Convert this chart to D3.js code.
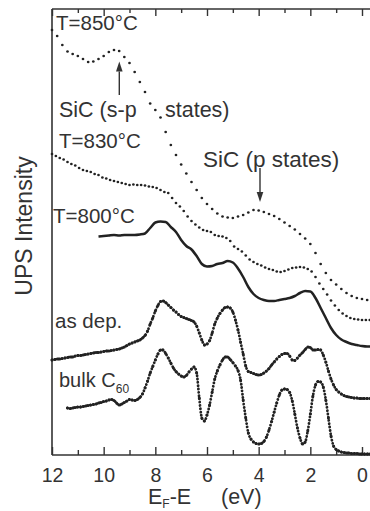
<!DOCTYPE html>
<html><head><meta charset="utf-8">
<script src="https://cdn.jsdelivr.net/npm/d3@7"></script>
<style>body{margin:0;background:#fff}svg{display:block}</style>
</head><body>
<svg id="chart" width="370" height="511"></svg>
<script>
// ---- data (binding energy E_F - E in eV, intensity in arb. units) ----
const xTicksMajor = [12, 10, 8, 6, 4, 2, 0];
const xTicksMinor = [11, 9, 7, 5, 3, 1];

const e850Start = 12, e850Step = 0.2;
const i850 = [
  425, 419, 410, 403.5, 401, 399, 396, 393, 393.5, 396,
  399, 403, 405, 404, 398, 392, 383, 373, 363, 351.5,
  345, 337.5, 323, 310, 300, 290.5, 281.5, 273, 265, 257,
  251, 246, 241.5, 238.5, 237.5, 237, 238.5, 240, 242.5, 245,
  244.5, 243, 241, 239, 236, 232.5, 229, 225.5, 221, 216.5,
  211, 202, 191, 182, 175, 170.5, 166, 162, 159, 157,
  156, 155, 155
];

const e830Start = 12, e830Step = 0.15;
const i830 = [
  301, 299, 297, 295.5, 293, 291, 289.5, 287, 285, 284,
  283, 281, 280, 277.5, 276.5, 275, 274, 273, 272, 271,
  270, 270.5, 270, 270, 269.5, 268.5, 268, 267, 265, 263,
  262, 257, 252, 248.5, 244, 238.5, 234, 230.5, 227.5, 225,
  224, 223, 220, 219, 218.5, 217, 214, 208.5, 206, 203.5,
  199.5, 195.5, 193, 191, 189.5, 187.5, 186, 185, 183.5, 183,
  184, 185.5, 187, 187.5, 188, 187.5, 186, 183.5, 178, 171.5,
  166, 160.5, 154.5, 149.5, 145, 141.5, 139, 137, 136, 135.5,
  135, 135, 135
];

const e800Start = 10.2, e800Step = 0.2;
const i800 = [
  218.5, 219, 219.5, 220, 219.5, 220, 220, 220, 220.5, 221.5,
  227, 232.5, 233.5, 233, 228, 223, 215, 209, 205.5, 199,
  191, 188.5, 189, 191, 192, 194, 192.5, 186.5, 178, 168,
  161, 157, 155, 154, 154, 155, 156, 157, 159, 162,
  164, 163.5, 157, 147, 137, 127, 120, 115.5, 113, 111,
  110, 109, 108.5, 108.5
];

const eDepStart = 12, eDepStep = 0.1;
const iDep = [
  95, 95.5, 96, 96, 96.5, 97, 97.5, 98, 98, 99,
  99.5, 99.5, 100, 100.5, 101, 101.5, 102, 102.5, 102.5, 103,
  103.5, 104, 104, 104.5, 105, 105.5, 106, 107, 108, 109.5,
  111, 112, 113, 114, 115, 117, 119.5, 124, 131, 137,
  144, 149.5, 153.5, 154, 152.5, 150, 147.5, 145, 143, 140.5,
  138.5, 137.5, 136.5, 135.5, 134.5, 133, 129, 122, 115, 110,
  111, 114.5, 122, 131, 137, 141.5, 145, 147.5, 148, 147,
  143, 135, 125, 113, 101, 89, 83.5, 82.5, 81.5, 80.5,
  80, 80.5, 82, 84, 86.5, 90, 93, 96, 98.5, 100.5,
  101.5, 101.5, 99, 95, 94.5, 97, 100, 102.5, 105.5, 108,
  107.5, 105, 105, 105.5, 105, 100, 93, 84, 76, 70,
  65.5, 63, 61, 59.5, 58.5, 58, 57.5, 57, 57, 56.5,
  56.5, 56.5, 56.5, 56.5
];

const eBulkStart = 11.4, eBulkStep = 0.1;
const iBulk = [
  47, 46.5, 47, 47.5, 48, 48, 48.5, 49, 49.5, 50,
  50.5, 51, 52, 52.5, 53.5, 54, 55, 55.5, 54.5, 52,
  50, 51, 52.5, 54, 55.5, 55, 54.5, 55.5, 57.5, 61,
  67, 74, 82, 88.5, 95, 101, 105, 105, 101.5, 97,
  92, 87, 83.5, 81, 79, 78, 79.5, 83, 86, 88,
  82, 57, 37, 34, 40, 50, 63, 76, 84, 90,
  95, 98, 98, 95.5, 92.5, 89, 84.5, 75, 55, 37,
  22, 16, 13, 11.5, 11, 11.5, 13.5, 18, 25, 33.5,
  43, 52, 60, 65, 66, 65.5, 62.5, 54, 41, 27,
  17, 11, 13, 24, 41, 59, 70, 73.5, 73, 68,
  55, 37, 19, 9, 5.5, 4, 3, 2.5, 2, 2,
  1.5, 1.5, 1.5, 1, 1, 1, 1, 1
];

// ---- helpers ----
function series(start, step, vals) {
  return vals.map((v, i) => ({ e: +(start - i * step).toFixed(3), v }));
}

const svg = d3.select("#chart");
const FONT = "'Liberation Sans', Arial, Helvetica, sans-serif";
const INK = "#222";
const AXC = "#333";

const x = d3.scaleLinear().domain([12, 0]).range([52, 362]);
const y = d3.scaleLinear().domain([0, 446]).range([455, 9]);

function styleAxis(g) {
  g.select(".domain").remove();
  g.selectAll(".tick line").attr("stroke", AXC).attr("stroke-width", 1.4);
  g.selectAll(".tick text").attr("font-family", FONT).attr("font-size", 19.5).attr("fill", "#333");
}
svg.append("g").attr("transform", `translate(0,${y(0)})`)
  .call(d3.axisBottom(x).tickValues(xTicksMajor).tickSize(-8).tickSizeOuter(0).tickPadding(13).tickFormat(d3.format("d")))
  .call(styleAxis);
svg.append("g").attr("transform", `translate(0,${y(0)})`)
  .call(d3.axisBottom(x).tickValues(xTicksMinor).tickSize(-5).tickSizeOuter(0).tickFormat(""))
  .call(styleAxis);
svg.append("g").attr("transform", `translate(0,${y(446)})`)
  .call(d3.axisTop(x).tickValues(xTicksMajor).tickSize(-7).tickSizeOuter(0).tickFormat(""))
  .call(styleAxis);
svg.append("g").attr("transform", `translate(0,${y(446)})`)
  .call(d3.axisTop(x).tickValues(xTicksMinor).tickSize(-4).tickSizeOuter(0).tickFormat(""))
  .call(styleAxis);

// frame (left, top, bottom) drawn with the scales
const frameSegs = [
  [[x(12), y(446)], [x(12), y(0)]],
  [[x(12), y(446)], [372, y(446)]],
  [[x(12), y(0)], [372, y(0)]]
];
svg.append("g").selectAll("path").data(frameSegs).join("path")
  .attr("d", d => `M${d[0][0]},${d[0][1]}L${d[1][0]},${d[1][1]}`)
  .attr("fill", "none").attr("stroke", AXC).attr("stroke-width", 1.6);

// curves
const line = d3.line().x(d => x(d.e)).y(d => y(d.v)).curve(d3.curveMonotoneX);

function dots(data, r) {
  svg.append("g").attr("fill", INK).selectAll("circle").data(data).join("circle")
    .attr("cx", d => x(d.e)).attr("cy", d => y(d.v)).attr("r", r);
}
function dense(data, r) {
  svg.append("path").datum(data).attr("d", line).attr("fill", "none")
    .attr("stroke", INK).attr("stroke-width", 2.8).attr("stroke-linecap", "round")
    .attr("stroke-dasharray", "0.1 3.2");
  dots(data, r);
}

dots(series(e850Start, e850Step, i850), 1.35);
dots(series(e830Start, e830Step, i830), 1.35);
svg.append("path").datum(series(e800Start, e800Step, i800)).attr("d", line)
  .attr("fill", "none").attr("stroke", INK).attr("stroke-width", 2.5);
dense(series(eDepStart, eDepStep, iDep), 1.5);
dense(series(eBulkStart, eBulkStep, iBulk), 1.5);

// text
function txt(s, tx, ty, size) {
  return svg.append("text").attr("x", tx).attr("y", ty).attr("font-family", FONT)
    .attr("font-size", size).attr("fill", "#333").text(s);
}
txt("T=850°C", 56, 30, 20.5);
const sp = txt("SiC (s-p", 59, 117, 21.5);
sp.append("tspan").attr("x", 165).text("states)");
txt("T=830°C", 59, 148, 20.5);
txt("SiC (p states)", 203, 167, 22.5);
txt("T=800°C", 53, 223, 20.5);
txt("as dep.", 55, 328, 20.5);
const bk = txt("bulk C", 59, 387, 20);
bk.append("tspan").attr("font-size", 12).attr("dy", 6).text("60");

// axis titles
const xt = svg.append("text").attr("x", 148).attr("y", 504).attr("font-family", FONT)
  .attr("font-size", 21.5).attr("fill", "#333");
xt.append("tspan").text("E");
xt.append("tspan").attr("font-size", 12).attr("dy", 4).text("F");
xt.append("tspan").attr("dy", -4).text("-E");
xt.append("tspan").attr("x", 221).text("(eV)");

svg.append("text").attr("transform", "translate(32,226) rotate(-90)")
  .attr("text-anchor", "middle").attr("font-family", FONT).attr("font-size", 23)
  .attr("fill", "#333").text("UPS Intensity");

// arrows
function arrow(ax, yFrom, yTip, dir) {
  const g = svg.append("g").attr("fill", "#333").attr("stroke", "#333");
  const base = yTip - dir * 10;
  g.append("line").attr("x1", ax).attr("x2", ax).attr("y1", yFrom).attr("y2", base).attr("stroke-width", 1.4);
  g.append("path").attr("stroke", "none")
    .attr("d", `M${ax},${yTip} L${ax - 3.3},${base} L${ax + 3.3},${base} Z`);
}
arrow(119.3, 95, 61.5, -1);
arrow(260, 168, 202, 1);
</script>
</body></html>
